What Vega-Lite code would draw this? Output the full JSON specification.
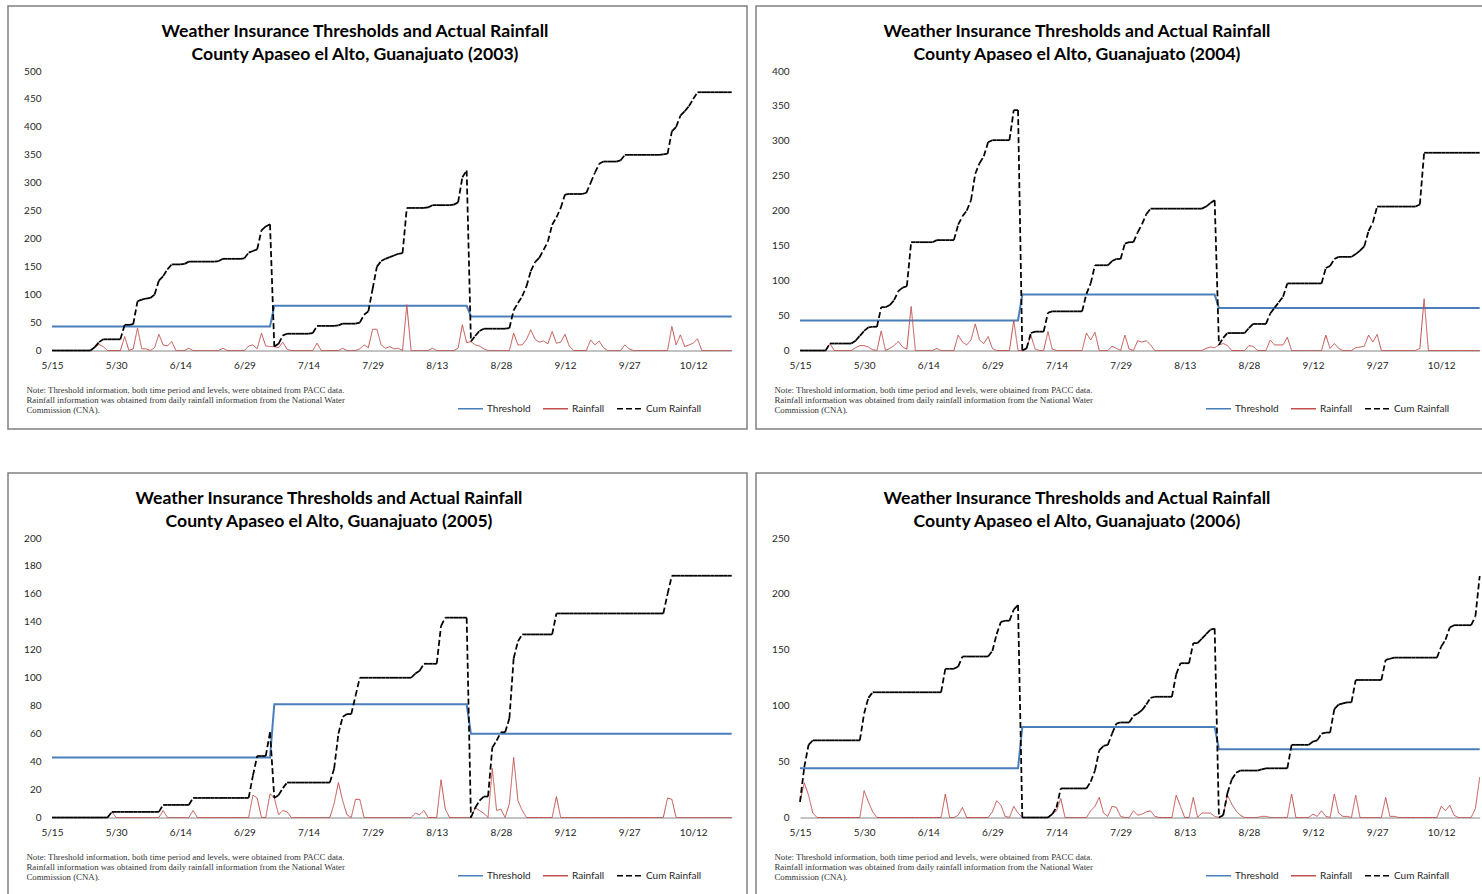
{
  "$schema": "https://vega.github.io/schema/vega-lite/v6.json",
  "padding": {"left": 7, "top": 5, "right": 5, "bottom": 5},
  "background": "white",
  "config": {
    "view": {"stroke": "#808080", "strokeWidth": 1.5},
    "font": "Lato",
    "axis": {"labelFont": "Lato", "labelFontSize": 10, "labelColor": "#262626", "grid": false, "ticks": false, "tickSize": 0, "labelFlush": false, "labelOverlap": false},
    "axisX": {"offset": -78.5, "labelPadding": 10, "domain": true, "domainColor": "#868686", "domainWidth": 1, "titleFont": "Liberation Serif", "titleFontSize": 8.8, "titleFontWeight": "normal", "titleColor": "#333333", "titleAnchor": "start", "titleAlign": "left", "titleBaseline": "top", "titleX": 18, "titleY": 35, "titleLineHeight": 9.8},
    "axisY": {"offset": -35, "labelPadding": 2, "domain": false, "title": null},
    "legend": {"orient": "none", "legendX": 449, "legendY": 389, "direction": "horizontal", "labelFont": "Lato", "labelFontSize": 10, "labelColor": "#262626", "symbolType": "stroke", "symbolSize": 625, "symbolStrokeWidth": 1.5, "columnPadding": 9, "labelOffset": 3},
    "title": {"font": "Lato", "fontSize": 17.6, "fontWeight": "bold", "color": "#000000", "anchor": "middle", "frame": "group", "offset": -58, "lineHeight": 23}
  },
  "columns": 2,
  "spacing": {"row": 44, "column": 9},
  "bounds": "flush",
  "resolve": {"scale": {"color": "independent", "strokeDash": "independent"}, "legend": {"color": "independent", "strokeDash": "independent"}},
  "concat": [
    {
      "width": 739, "height": 423,
      "title": {"text": ["Weather Insurance Thresholds and Actual Rainfall", "County Apaseo el Alto, Guanajuato (2003)"], "dx": -22.5},
      "data": {"format": {"parse": {"date": "date:'%Y-%m-%d'"}}, "values": [
        {"date":"2003-05-15","Rainfall":0,"Cum Rainfall":0},{"date":"2003-05-16","Rainfall":0,"Cum Rainfall":0},{"date":"2003-05-17","Rainfall":0,"Cum Rainfall":0},{"date":"2003-05-18","Rainfall":0,"Cum Rainfall":0},{"date":"2003-05-19","Rainfall":0,"Cum Rainfall":0},{"date":"2003-05-20","Rainfall":0,"Cum Rainfall":0},{"date":"2003-05-21","Rainfall":0,"Cum Rainfall":0},{"date":"2003-05-22","Rainfall":0,"Cum Rainfall":0},{"date":"2003-05-23","Rainfall":0,"Cum Rainfall":0},{"date":"2003-05-24","Rainfall":0,"Cum Rainfall":0},{"date":"2003-05-25","Rainfall":6,"Cum Rainfall":6},{"date":"2003-05-26","Rainfall":11,"Cum Rainfall":15},{"date":"2003-05-27","Rainfall":7,"Cum Rainfall":20},{"date":"2003-05-28","Rainfall":0,"Cum Rainfall":20},{"date":"2003-05-29","Rainfall":0,"Cum Rainfall":20},{"date":"2003-05-30","Rainfall":0,"Cum Rainfall":20},{"date":"2003-05-31","Rainfall":0,"Cum Rainfall":20},
        {"date":"2003-06-01","Rainfall":25,"Cum Rainfall":46},{"date":"2003-06-02","Rainfall":0,"Cum Rainfall":46},{"date":"2003-06-03","Rainfall":3,"Cum Rainfall":47},{"date":"2003-06-04","Rainfall":40,"Cum Rainfall":88},{"date":"2003-06-05","Rainfall":3,"Cum Rainfall":91},{"date":"2003-06-06","Rainfall":3,"Cum Rainfall":93},{"date":"2003-06-07","Rainfall":0,"Cum Rainfall":94},{"date":"2003-06-08","Rainfall":5,"Cum Rainfall":100},{"date":"2003-06-09","Rainfall":29,"Cum Rainfall":125},{"date":"2003-06-10","Rainfall":10,"Cum Rainfall":133},{"date":"2003-06-11","Rainfall":8,"Cum Rainfall":145},{"date":"2003-06-12","Rainfall":16,"Cum Rainfall":154},{"date":"2003-06-13","Rainfall":0,"Cum Rainfall":154},{"date":"2003-06-14","Rainfall":0,"Cum Rainfall":154},{"date":"2003-06-15","Rainfall":0,"Cum Rainfall":155},{"date":"2003-06-16","Rainfall":4,"Cum Rainfall":159},{"date":"2003-06-17","Rainfall":0,"Cum Rainfall":159},{"date":"2003-06-18","Rainfall":0,"Cum Rainfall":159},{"date":"2003-06-19","Rainfall":0,"Cum Rainfall":159},{"date":"2003-06-20","Rainfall":0,"Cum Rainfall":159},{"date":"2003-06-21","Rainfall":0,"Cum Rainfall":159},{"date":"2003-06-22","Rainfall":0,"Cum Rainfall":159},{"date":"2003-06-23","Rainfall":0,"Cum Rainfall":160},{"date":"2003-06-24","Rainfall":4,"Cum Rainfall":164},{"date":"2003-06-25","Rainfall":0,"Cum Rainfall":164},{"date":"2003-06-26","Rainfall":0,"Cum Rainfall":164},{"date":"2003-06-27","Rainfall":0,"Cum Rainfall":164},{"date":"2003-06-28","Rainfall":0,"Cum Rainfall":164},{"date":"2003-06-29","Rainfall":0,"Cum Rainfall":165},{"date":"2003-06-30","Rainfall":8,"Cum Rainfall":175},
        {"date":"2003-07-01","Rainfall":10,"Cum Rainfall":178},{"date":"2003-07-02","Rainfall":3,"Cum Rainfall":181},{"date":"2003-07-03","Rainfall":31,"Cum Rainfall":215},{"date":"2003-07-04","Rainfall":8,"Cum Rainfall":222},{"date":"2003-07-05","Rainfall":7,"Cum Rainfall":226},{"date":"2003-07-06","Rainfall":7,"Cum Rainfall":7},{"date":"2003-07-07","Rainfall":5,"Cum Rainfall":12},{"date":"2003-07-08","Rainfall":15,"Cum Rainfall":27},{"date":"2003-07-09","Rainfall":2,"Cum Rainfall":30},{"date":"2003-07-10","Rainfall":0,"Cum Rainfall":30},{"date":"2003-07-11","Rainfall":0,"Cum Rainfall":30},{"date":"2003-07-12","Rainfall":0,"Cum Rainfall":30},{"date":"2003-07-13","Rainfall":0,"Cum Rainfall":30},{"date":"2003-07-14","Rainfall":0,"Cum Rainfall":30},{"date":"2003-07-15","Rainfall":0,"Cum Rainfall":31},{"date":"2003-07-16","Rainfall":13,"Cum Rainfall":44},{"date":"2003-07-17","Rainfall":0,"Cum Rainfall":44},{"date":"2003-07-18","Rainfall":0,"Cum Rainfall":44},{"date":"2003-07-19","Rainfall":0,"Cum Rainfall":44},{"date":"2003-07-20","Rainfall":0,"Cum Rainfall":44},{"date":"2003-07-21","Rainfall":0,"Cum Rainfall":45},{"date":"2003-07-22","Rainfall":4,"Cum Rainfall":48},{"date":"2003-07-23","Rainfall":0,"Cum Rainfall":48},{"date":"2003-07-24","Rainfall":0,"Cum Rainfall":48},{"date":"2003-07-25","Rainfall":0,"Cum Rainfall":48},{"date":"2003-07-26","Rainfall":3,"Cum Rainfall":50},{"date":"2003-07-27","Rainfall":10,"Cum Rainfall":64},{"date":"2003-07-28","Rainfall":5,"Cum Rainfall":70},{"date":"2003-07-29","Rainfall":38,"Cum Rainfall":110},{"date":"2003-07-30","Rainfall":38,"Cum Rainfall":150},{"date":"2003-07-31","Rainfall":10,"Cum Rainfall":160},
        {"date":"2003-08-01","Rainfall":4,"Cum Rainfall":164},{"date":"2003-08-02","Rainfall":7,"Cum Rainfall":167},{"date":"2003-08-03","Rainfall":3,"Cum Rainfall":170},{"date":"2003-08-04","Rainfall":4,"Cum Rainfall":173},{"date":"2003-08-05","Rainfall":0,"Cum Rainfall":174},{"date":"2003-08-06","Rainfall":82,"Cum Rainfall":255},{"date":"2003-08-07","Rainfall":0,"Cum Rainfall":255},{"date":"2003-08-08","Rainfall":0,"Cum Rainfall":255},{"date":"2003-08-09","Rainfall":0,"Cum Rainfall":255},{"date":"2003-08-10","Rainfall":0,"Cum Rainfall":255},{"date":"2003-08-11","Rainfall":0,"Cum Rainfall":256},{"date":"2003-08-12","Rainfall":4,"Cum Rainfall":260},{"date":"2003-08-13","Rainfall":0,"Cum Rainfall":260},{"date":"2003-08-14","Rainfall":0,"Cum Rainfall":260},{"date":"2003-08-15","Rainfall":0,"Cum Rainfall":260},{"date":"2003-08-16","Rainfall":0,"Cum Rainfall":260},{"date":"2003-08-17","Rainfall":0,"Cum Rainfall":261},{"date":"2003-08-18","Rainfall":4,"Cum Rainfall":265},{"date":"2003-08-19","Rainfall":46,"Cum Rainfall":310},{"date":"2003-08-20","Rainfall":14,"Cum Rainfall":322},{"date":"2003-08-21","Rainfall":16,"Cum Rainfall":16},{"date":"2003-08-22","Rainfall":10,"Cum Rainfall":26},{"date":"2003-08-23","Rainfall":8,"Cum Rainfall":35},{"date":"2003-08-24","Rainfall":3,"Cum Rainfall":39},{"date":"2003-08-25","Rainfall":0,"Cum Rainfall":39},{"date":"2003-08-26","Rainfall":0,"Cum Rainfall":39},{"date":"2003-08-27","Rainfall":0,"Cum Rainfall":39},{"date":"2003-08-28","Rainfall":0,"Cum Rainfall":39},{"date":"2003-08-29","Rainfall":0,"Cum Rainfall":39},{"date":"2003-08-30","Rainfall":0,"Cum Rainfall":40},{"date":"2003-08-31","Rainfall":31,"Cum Rainfall":72},
        {"date":"2003-09-01","Rainfall":10,"Cum Rainfall":85},{"date":"2003-09-02","Rainfall":10,"Cum Rainfall":97},{"date":"2003-09-03","Rainfall":20,"Cum Rainfall":115},{"date":"2003-09-04","Rainfall":37,"Cum Rainfall":142},{"date":"2003-09-05","Rainfall":20,"Cum Rainfall":158},{"date":"2003-09-06","Rainfall":15,"Cum Rainfall":166},{"date":"2003-09-07","Rainfall":17,"Cum Rainfall":180},{"date":"2003-09-08","Rainfall":12,"Cum Rainfall":195},{"date":"2003-09-09","Rainfall":34,"Cum Rainfall":225},{"date":"2003-09-10","Rainfall":13,"Cum Rainfall":238},{"date":"2003-09-11","Rainfall":15,"Cum Rainfall":255},{"date":"2003-09-12","Rainfall":29,"Cum Rainfall":279},{"date":"2003-09-13","Rainfall":8,"Cum Rainfall":280},{"date":"2003-09-14","Rainfall":0,"Cum Rainfall":280},{"date":"2003-09-15","Rainfall":0,"Cum Rainfall":280},{"date":"2003-09-16","Rainfall":0,"Cum Rainfall":280},{"date":"2003-09-17","Rainfall":0,"Cum Rainfall":282},{"date":"2003-09-18","Rainfall":19,"Cum Rainfall":300},{"date":"2003-09-19","Rainfall":10,"Cum Rainfall":318},{"date":"2003-09-20","Rainfall":17,"Cum Rainfall":334},{"date":"2003-09-21","Rainfall":5,"Cum Rainfall":338},{"date":"2003-09-22","Rainfall":0,"Cum Rainfall":338},{"date":"2003-09-23","Rainfall":0,"Cum Rainfall":338},{"date":"2003-09-24","Rainfall":0,"Cum Rainfall":338},{"date":"2003-09-25","Rainfall":0,"Cum Rainfall":340},{"date":"2003-09-26","Rainfall":10,"Cum Rainfall":350},{"date":"2003-09-27","Rainfall":3,"Cum Rainfall":350},{"date":"2003-09-28","Rainfall":0,"Cum Rainfall":350},{"date":"2003-09-29","Rainfall":0,"Cum Rainfall":350},{"date":"2003-09-30","Rainfall":0,"Cum Rainfall":350},
        {"date":"2003-10-01","Rainfall":0,"Cum Rainfall":350},{"date":"2003-10-02","Rainfall":0,"Cum Rainfall":350},{"date":"2003-10-03","Rainfall":0,"Cum Rainfall":350},{"date":"2003-10-04","Rainfall":0,"Cum Rainfall":350},{"date":"2003-10-05","Rainfall":0,"Cum Rainfall":351},{"date":"2003-10-06","Rainfall":0,"Cum Rainfall":352},{"date":"2003-10-07","Rainfall":43,"Cum Rainfall":392},{"date":"2003-10-08","Rainfall":10,"Cum Rainfall":400},{"date":"2003-10-09","Rainfall":28,"Cum Rainfall":420},{"date":"2003-10-10","Rainfall":7,"Cum Rainfall":428},{"date":"2003-10-11","Rainfall":10,"Cum Rainfall":437},{"date":"2003-10-12","Rainfall":13,"Cum Rainfall":450},{"date":"2003-10-13","Rainfall":21,"Cum Rainfall":462},{"date":"2003-10-14","Rainfall":0,"Cum Rainfall":462},{"date":"2003-10-15","Rainfall":0,"Cum Rainfall":462},{"date":"2003-10-16","Rainfall":0,"Cum Rainfall":462},{"date":"2003-10-17","Rainfall":0,"Cum Rainfall":462},{"date":"2003-10-18","Rainfall":0,"Cum Rainfall":462},{"date":"2003-10-19","Rainfall":0,"Cum Rainfall":462},{"date":"2003-10-20","Rainfall":0,"Cum Rainfall":462},{"date":"2003-10-21","Rainfall":0,"Cum Rainfall":462}
      ]},
      "encoding": {
        "x": {"field": "date", "type": "temporal",
          "scale": {"domain": [{"year": 2003, "month": 5, "date": 15}, {"year": 2003, "month": 10, "date": 21}], "range": [44, 723.7]},
          "axis": {"format": "%-m/%-d", "values": [{"year": 2003, "month": 5, "date": 15}, {"year": 2003, "month": 5, "date": 30}, {"year": 2003, "month": 6, "date": 14}, {"year": 2003, "month": 6, "date": 29}, {"year": 2003, "month": 7, "date": 14}, {"year": 2003, "month": 7, "date": 29}, {"year": 2003, "month": 8, "date": 13}, {"year": 2003, "month": 8, "date": 28}, {"year": 2003, "month": 9, "date": 12}, {"year": 2003, "month": 9, "date": 27}, {"year": 2003, "month": 10, "date": 12}],
            "title": ["Note:  Threshold information, both time period and levels, were obtained from PACC data.", "Rainfall information was obtained from daily rainfall information from the National Water", "Commission (CNA)."]}},
        "y": {"field": "mm", "type": "quantitative", "scale": {"domain": [0, 500], "range": [344.5, 65], "nice": false}, "axis": {"values": [0, 50, 100, 150, 200, 250, 300, 350, 400, 450, 500]}},
        "color": {"field": "series", "type": "nominal", "scale": {"domain": ["Threshold", "Rainfall", "Cum Rainfall"], "range": ["#4a7ebb", "#c0504d", "#000000"]}, "legend": {"title": null}},
        "strokeDash": {"field": "series", "type": "nominal", "scale": {"domain": ["Threshold", "Rainfall", "Cum Rainfall"], "range": [[1, 0], [1, 0], [6, 3]]}, "legend": {"title": null}}
      },
      "layer": [
        {"data": {"format": {"parse": {"date": "date:'%Y-%m-%d'"}}, "values": [{"series":"Threshold","date":"2003-05-15","mm":43},{"series":"Threshold","date":"2003-07-05","mm":43},{"series":"Threshold","date":"2003-07-06","mm":80},{"series":"Threshold","date":"2003-08-20","mm":80},{"series":"Threshold","date":"2003-08-21","mm":61},{"series":"Threshold","date":"2003-10-21","mm":61}]},
         "mark": {"type": "line", "strokeWidth": 2}},
        {"transform": [{"fold": ["Rainfall"], "as": ["series", "mm"]}], "mark": {"type": "line", "strokeWidth": 1}},
        {"transform": [{"window": [{"op": "lead", "field": "date", "as": "next_date"}, {"op": "lead", "field": "Cum Rainfall", "as": "next_mm"}], "sort": [{"field": "date", "order": "ascending"}]}, {"filter": "datum.next_date != null"}, {"fold": ["Cum Rainfall"], "as": ["series", "mm"]}],
         "mark": {"type": "rule", "strokeWidth": 1.75, "strokeCap": "butt"},
         "encoding": {"x2": {"field": "next_date"}, "y2": {"field": "next_mm"}}}
      ]
    },
    {
      "width": 739, "height": 423,
      "title": {"text": ["Weather Insurance Thresholds and Actual Rainfall", "County Apaseo el Alto, Guanajuato (2004)"], "dx": -48.5},
      "data": {"format": {"parse": {"date": "date:'%Y-%m-%d'"}}, "values": [
        {"date":"2004-05-15","Rainfall":0,"Cum Rainfall":0},{"date":"2004-05-16","Rainfall":0,"Cum Rainfall":0},{"date":"2004-05-17","Rainfall":0,"Cum Rainfall":0},{"date":"2004-05-18","Rainfall":0,"Cum Rainfall":0},{"date":"2004-05-19","Rainfall":0,"Cum Rainfall":0},{"date":"2004-05-20","Rainfall":0,"Cum Rainfall":0},{"date":"2004-05-21","Rainfall":0,"Cum Rainfall":0},{"date":"2004-05-22","Rainfall":10,"Cum Rainfall":10},{"date":"2004-05-23","Rainfall":0,"Cum Rainfall":10},{"date":"2004-05-24","Rainfall":0,"Cum Rainfall":10},{"date":"2004-05-25","Rainfall":0,"Cum Rainfall":10},{"date":"2004-05-26","Rainfall":0,"Cum Rainfall":10},{"date":"2004-05-27","Rainfall":0,"Cum Rainfall":10},{"date":"2004-05-28","Rainfall":4,"Cum Rainfall":14},{"date":"2004-05-29","Rainfall":7,"Cum Rainfall":21},{"date":"2004-05-30","Rainfall":7,"Cum Rainfall":28},{"date":"2004-05-31","Rainfall":5,"Cum Rainfall":33},
        {"date":"2004-06-01","Rainfall":1,"Cum Rainfall":34},{"date":"2004-06-02","Rainfall":0,"Cum Rainfall":34},{"date":"2004-06-03","Rainfall":28,"Cum Rainfall":62},{"date":"2004-06-04","Rainfall":0,"Cum Rainfall":62},{"date":"2004-06-05","Rainfall":3,"Cum Rainfall":65},{"date":"2004-06-06","Rainfall":7,"Cum Rainfall":72},{"date":"2004-06-07","Rainfall":13,"Cum Rainfall":85},{"date":"2004-06-08","Rainfall":5,"Cum Rainfall":90},{"date":"2004-06-09","Rainfall":2,"Cum Rainfall":92},{"date":"2004-06-10","Rainfall":63,"Cum Rainfall":155},{"date":"2004-06-11","Rainfall":0,"Cum Rainfall":155},{"date":"2004-06-12","Rainfall":0,"Cum Rainfall":155},{"date":"2004-06-13","Rainfall":0,"Cum Rainfall":155},{"date":"2004-06-14","Rainfall":0,"Cum Rainfall":155},{"date":"2004-06-15","Rainfall":0,"Cum Rainfall":155},{"date":"2004-06-16","Rainfall":3,"Cum Rainfall":158},{"date":"2004-06-17","Rainfall":0,"Cum Rainfall":158},{"date":"2004-06-18","Rainfall":0,"Cum Rainfall":158},{"date":"2004-06-19","Rainfall":0,"Cum Rainfall":158},{"date":"2004-06-20","Rainfall":0,"Cum Rainfall":158},{"date":"2004-06-21","Rainfall":22,"Cum Rainfall":180},{"date":"2004-06-22","Rainfall":12,"Cum Rainfall":192},{"date":"2004-06-23","Rainfall":8,"Cum Rainfall":200},{"date":"2004-06-24","Rainfall":15,"Cum Rainfall":215},{"date":"2004-06-25","Rainfall":38,"Cum Rainfall":253},{"date":"2004-06-26","Rainfall":15,"Cum Rainfall":268},{"date":"2004-06-27","Rainfall":10,"Cum Rainfall":278},{"date":"2004-06-28","Rainfall":20,"Cum Rainfall":298},{"date":"2004-06-29","Rainfall":3,"Cum Rainfall":301},{"date":"2004-06-30","Rainfall":0,"Cum Rainfall":301},
        {"date":"2004-07-01","Rainfall":0,"Cum Rainfall":301},{"date":"2004-07-02","Rainfall":0,"Cum Rainfall":301},{"date":"2004-07-03","Rainfall":0,"Cum Rainfall":301},{"date":"2004-07-04","Rainfall":43,"Cum Rainfall":344},{"date":"2004-07-05","Rainfall":0,"Cum Rainfall":344},{"date":"2004-07-06","Rainfall":0,"Cum Rainfall":0},{"date":"2004-07-07","Rainfall":3,"Cum Rainfall":3},{"date":"2004-07-08","Rainfall":22,"Cum Rainfall":25},{"date":"2004-07-09","Rainfall":2,"Cum Rainfall":27},{"date":"2004-07-10","Rainfall":0,"Cum Rainfall":27},{"date":"2004-07-11","Rainfall":0,"Cum Rainfall":27},{"date":"2004-07-12","Rainfall":27,"Cum Rainfall":54},{"date":"2004-07-13","Rainfall":2,"Cum Rainfall":56},{"date":"2004-07-14","Rainfall":0,"Cum Rainfall":56},{"date":"2004-07-15","Rainfall":0,"Cum Rainfall":56},{"date":"2004-07-16","Rainfall":0,"Cum Rainfall":56},{"date":"2004-07-17","Rainfall":0,"Cum Rainfall":56},{"date":"2004-07-18","Rainfall":0,"Cum Rainfall":56},{"date":"2004-07-19","Rainfall":0,"Cum Rainfall":56},{"date":"2004-07-20","Rainfall":0,"Cum Rainfall":56},{"date":"2004-07-21","Rainfall":25,"Cum Rainfall":81},{"date":"2004-07-22","Rainfall":15,"Cum Rainfall":96},{"date":"2004-07-23","Rainfall":26,"Cum Rainfall":122},{"date":"2004-07-24","Rainfall":0,"Cum Rainfall":122},{"date":"2004-07-25","Rainfall":0,"Cum Rainfall":122},{"date":"2004-07-26","Rainfall":0,"Cum Rainfall":122},{"date":"2004-07-27","Rainfall":6,"Cum Rainfall":128},{"date":"2004-07-28","Rainfall":3,"Cum Rainfall":131},{"date":"2004-07-29","Rainfall":0,"Cum Rainfall":131},{"date":"2004-07-30","Rainfall":22,"Cum Rainfall":153},{"date":"2004-07-31","Rainfall":2,"Cum Rainfall":155},
        {"date":"2004-08-01","Rainfall":0,"Cum Rainfall":155},{"date":"2004-08-02","Rainfall":14,"Cum Rainfall":169},{"date":"2004-08-03","Rainfall":12,"Cum Rainfall":181},{"date":"2004-08-04","Rainfall":14,"Cum Rainfall":195},{"date":"2004-08-05","Rainfall":8,"Cum Rainfall":203},{"date":"2004-08-06","Rainfall":0,"Cum Rainfall":203},{"date":"2004-08-07","Rainfall":0,"Cum Rainfall":203},{"date":"2004-08-08","Rainfall":0,"Cum Rainfall":203},{"date":"2004-08-09","Rainfall":0,"Cum Rainfall":203},{"date":"2004-08-10","Rainfall":0,"Cum Rainfall":203},{"date":"2004-08-11","Rainfall":0,"Cum Rainfall":203},{"date":"2004-08-12","Rainfall":0,"Cum Rainfall":203},{"date":"2004-08-13","Rainfall":0,"Cum Rainfall":203},{"date":"2004-08-14","Rainfall":0,"Cum Rainfall":203},{"date":"2004-08-15","Rainfall":0,"Cum Rainfall":203},{"date":"2004-08-16","Rainfall":0,"Cum Rainfall":203},{"date":"2004-08-17","Rainfall":0,"Cum Rainfall":203},{"date":"2004-08-18","Rainfall":3,"Cum Rainfall":206},{"date":"2004-08-19","Rainfall":5,"Cum Rainfall":211},{"date":"2004-08-20","Rainfall":4,"Cum Rainfall":215},{"date":"2004-08-21","Rainfall":8,"Cum Rainfall":8},{"date":"2004-08-22","Rainfall":10,"Cum Rainfall":18},{"date":"2004-08-23","Rainfall":7,"Cum Rainfall":25},{"date":"2004-08-24","Rainfall":0,"Cum Rainfall":25},{"date":"2004-08-25","Rainfall":0,"Cum Rainfall":25},{"date":"2004-08-26","Rainfall":0,"Cum Rainfall":25},{"date":"2004-08-27","Rainfall":0,"Cum Rainfall":25},{"date":"2004-08-28","Rainfall":7,"Cum Rainfall":32},{"date":"2004-08-29","Rainfall":6,"Cum Rainfall":38},{"date":"2004-08-30","Rainfall":0,"Cum Rainfall":38},{"date":"2004-08-31","Rainfall":0,"Cum Rainfall":38},
        {"date":"2004-09-01","Rainfall":0,"Cum Rainfall":38},{"date":"2004-09-02","Rainfall":15,"Cum Rainfall":53},{"date":"2004-09-03","Rainfall":8,"Cum Rainfall":61},{"date":"2004-09-04","Rainfall":8,"Cum Rainfall":69},{"date":"2004-09-05","Rainfall":8,"Cum Rainfall":77},{"date":"2004-09-06","Rainfall":19,"Cum Rainfall":96},{"date":"2004-09-07","Rainfall":0,"Cum Rainfall":96},{"date":"2004-09-08","Rainfall":0,"Cum Rainfall":96},{"date":"2004-09-09","Rainfall":0,"Cum Rainfall":96},{"date":"2004-09-10","Rainfall":0,"Cum Rainfall":96},{"date":"2004-09-11","Rainfall":0,"Cum Rainfall":96},{"date":"2004-09-12","Rainfall":0,"Cum Rainfall":96},{"date":"2004-09-13","Rainfall":0,"Cum Rainfall":96},{"date":"2004-09-14","Rainfall":0,"Cum Rainfall":96},{"date":"2004-09-15","Rainfall":22,"Cum Rainfall":118},{"date":"2004-09-16","Rainfall":3,"Cum Rainfall":121},{"date":"2004-09-17","Rainfall":10,"Cum Rainfall":131},{"date":"2004-09-18","Rainfall":3,"Cum Rainfall":134},{"date":"2004-09-19","Rainfall":0,"Cum Rainfall":134},{"date":"2004-09-20","Rainfall":0,"Cum Rainfall":134},{"date":"2004-09-21","Rainfall":0,"Cum Rainfall":134},{"date":"2004-09-22","Rainfall":4,"Cum Rainfall":138},{"date":"2004-09-23","Rainfall":5,"Cum Rainfall":143},{"date":"2004-09-24","Rainfall":6,"Cum Rainfall":149},{"date":"2004-09-25","Rainfall":22,"Cum Rainfall":171},{"date":"2004-09-26","Rainfall":12,"Cum Rainfall":183},{"date":"2004-09-27","Rainfall":23,"Cum Rainfall":206},{"date":"2004-09-28","Rainfall":0,"Cum Rainfall":206},{"date":"2004-09-29","Rainfall":0,"Cum Rainfall":206},{"date":"2004-09-30","Rainfall":0,"Cum Rainfall":206},
        {"date":"2004-10-01","Rainfall":0,"Cum Rainfall":206},{"date":"2004-10-02","Rainfall":0,"Cum Rainfall":206},{"date":"2004-10-03","Rainfall":0,"Cum Rainfall":206},{"date":"2004-10-04","Rainfall":0,"Cum Rainfall":206},{"date":"2004-10-05","Rainfall":0,"Cum Rainfall":206},{"date":"2004-10-06","Rainfall":0,"Cum Rainfall":206},{"date":"2004-10-07","Rainfall":3,"Cum Rainfall":209},{"date":"2004-10-08","Rainfall":74,"Cum Rainfall":283},{"date":"2004-10-09","Rainfall":0,"Cum Rainfall":283},{"date":"2004-10-10","Rainfall":0,"Cum Rainfall":283},{"date":"2004-10-11","Rainfall":0,"Cum Rainfall":283},{"date":"2004-10-12","Rainfall":0,"Cum Rainfall":283},{"date":"2004-10-13","Rainfall":0,"Cum Rainfall":283},{"date":"2004-10-14","Rainfall":0,"Cum Rainfall":283},{"date":"2004-10-15","Rainfall":0,"Cum Rainfall":283},{"date":"2004-10-16","Rainfall":0,"Cum Rainfall":283},{"date":"2004-10-17","Rainfall":0,"Cum Rainfall":283},{"date":"2004-10-18","Rainfall":0,"Cum Rainfall":283},{"date":"2004-10-19","Rainfall":0,"Cum Rainfall":283},{"date":"2004-10-20","Rainfall":0,"Cum Rainfall":283},{"date":"2004-10-21","Rainfall":0,"Cum Rainfall":283}
      ]},
      "encoding": {
        "x": {"field": "date", "type": "temporal",
          "scale": {"domain": [{"year": 2004, "month": 5, "date": 15}, {"year": 2004, "month": 10, "date": 21}], "range": [44, 723.7]},
          "axis": {"format": "%-m/%-d", "values": [{"year": 2004, "month": 5, "date": 15}, {"year": 2004, "month": 5, "date": 30}, {"year": 2004, "month": 6, "date": 14}, {"year": 2004, "month": 6, "date": 29}, {"year": 2004, "month": 7, "date": 14}, {"year": 2004, "month": 7, "date": 29}, {"year": 2004, "month": 8, "date": 13}, {"year": 2004, "month": 8, "date": 28}, {"year": 2004, "month": 9, "date": 12}, {"year": 2004, "month": 9, "date": 27}, {"year": 2004, "month": 10, "date": 12}],
            "title": ["Note:  Threshold information, both time period and levels, were obtained from PACC data.", "Rainfall information was obtained from daily rainfall information from the National Water", "Commission (CNA)."]}},
        "y": {"field": "mm", "type": "quantitative", "scale": {"domain": [0, 400], "range": [344.5, 65], "nice": false}, "axis": {"values": [0, 50, 100, 150, 200, 250, 300, 350, 400]}},
        "color": {"field": "series", "type": "nominal", "scale": {"domain": ["Threshold", "Rainfall", "Cum Rainfall"], "range": ["#4a7ebb", "#c0504d", "#000000"]}, "legend": {"title": null}},
        "strokeDash": {"field": "series", "type": "nominal", "scale": {"domain": ["Threshold", "Rainfall", "Cum Rainfall"], "range": [[1, 0], [1, 0], [6, 3]]}, "legend": {"title": null}}
      },
      "layer": [
        {"data": {"format": {"parse": {"date": "date:'%Y-%m-%d'"}}, "values": [{"series":"Threshold","date":"2004-05-15","mm":43},{"series":"Threshold","date":"2004-07-05","mm":43},{"series":"Threshold","date":"2004-07-06","mm":80},{"series":"Threshold","date":"2004-08-20","mm":80},{"series":"Threshold","date":"2004-08-21","mm":61},{"series":"Threshold","date":"2004-10-21","mm":61}]},
         "mark": {"type": "line", "strokeWidth": 2}},
        {"transform": [{"fold": ["Rainfall"], "as": ["series", "mm"]}], "mark": {"type": "line", "strokeWidth": 1}},
        {"transform": [{"window": [{"op": "lead", "field": "date", "as": "next_date"}, {"op": "lead", "field": "Cum Rainfall", "as": "next_mm"}], "sort": [{"field": "date", "order": "ascending"}]}, {"filter": "datum.next_date != null"}, {"fold": ["Cum Rainfall"], "as": ["series", "mm"]}],
         "mark": {"type": "rule", "strokeWidth": 1.75, "strokeCap": "butt"},
         "encoding": {"x2": {"field": "next_date"}, "y2": {"field": "next_mm"}}}
      ]
    },
    {
      "width": 739, "height": 423,
      "title": {"text": ["Weather Insurance Thresholds and Actual Rainfall", "County Apaseo el Alto, Guanajuato (2005)"], "dx": -48.5},
      "data": {"format": {"parse": {"date": "date:'%Y-%m-%d'"}}, "values": [
        {"date":"2005-05-15","Rainfall":0,"Cum Rainfall":0},{"date":"2005-05-16","Rainfall":0,"Cum Rainfall":0},{"date":"2005-05-17","Rainfall":0,"Cum Rainfall":0},{"date":"2005-05-18","Rainfall":0,"Cum Rainfall":0},{"date":"2005-05-19","Rainfall":0,"Cum Rainfall":0},{"date":"2005-05-20","Rainfall":0,"Cum Rainfall":0},{"date":"2005-05-21","Rainfall":0,"Cum Rainfall":0},{"date":"2005-05-22","Rainfall":0,"Cum Rainfall":0},{"date":"2005-05-23","Rainfall":0,"Cum Rainfall":0},{"date":"2005-05-24","Rainfall":0,"Cum Rainfall":0},{"date":"2005-05-25","Rainfall":0,"Cum Rainfall":0},{"date":"2005-05-26","Rainfall":0,"Cum Rainfall":0},{"date":"2005-05-27","Rainfall":0,"Cum Rainfall":0},{"date":"2005-05-28","Rainfall":0,"Cum Rainfall":0},{"date":"2005-05-29","Rainfall":4,"Cum Rainfall":4},{"date":"2005-05-30","Rainfall":0,"Cum Rainfall":4},{"date":"2005-05-31","Rainfall":0,"Cum Rainfall":4},
        {"date":"2005-06-01","Rainfall":0,"Cum Rainfall":4},{"date":"2005-06-02","Rainfall":0,"Cum Rainfall":4},{"date":"2005-06-03","Rainfall":0,"Cum Rainfall":4},{"date":"2005-06-04","Rainfall":0,"Cum Rainfall":4},{"date":"2005-06-05","Rainfall":0,"Cum Rainfall":4},{"date":"2005-06-06","Rainfall":0,"Cum Rainfall":4},{"date":"2005-06-07","Rainfall":0,"Cum Rainfall":4},{"date":"2005-06-08","Rainfall":0,"Cum Rainfall":4},{"date":"2005-06-09","Rainfall":0,"Cum Rainfall":4},{"date":"2005-06-10","Rainfall":5,"Cum Rainfall":9},{"date":"2005-06-11","Rainfall":0,"Cum Rainfall":9},{"date":"2005-06-12","Rainfall":0,"Cum Rainfall":9},{"date":"2005-06-13","Rainfall":0,"Cum Rainfall":9},{"date":"2005-06-14","Rainfall":0,"Cum Rainfall":9},{"date":"2005-06-15","Rainfall":0,"Cum Rainfall":9},{"date":"2005-06-16","Rainfall":0,"Cum Rainfall":9},{"date":"2005-06-17","Rainfall":5,"Cum Rainfall":14},{"date":"2005-06-18","Rainfall":0,"Cum Rainfall":14},{"date":"2005-06-19","Rainfall":0,"Cum Rainfall":14},{"date":"2005-06-20","Rainfall":0,"Cum Rainfall":14},{"date":"2005-06-21","Rainfall":0,"Cum Rainfall":14},{"date":"2005-06-22","Rainfall":0,"Cum Rainfall":14},{"date":"2005-06-23","Rainfall":0,"Cum Rainfall":14},{"date":"2005-06-24","Rainfall":0,"Cum Rainfall":14},{"date":"2005-06-25","Rainfall":0,"Cum Rainfall":14},{"date":"2005-06-26","Rainfall":0,"Cum Rainfall":14},{"date":"2005-06-27","Rainfall":0,"Cum Rainfall":14},{"date":"2005-06-28","Rainfall":0,"Cum Rainfall":14},{"date":"2005-06-29","Rainfall":0,"Cum Rainfall":14},{"date":"2005-06-30","Rainfall":0,"Cum Rainfall":14},
        {"date":"2005-07-01","Rainfall":16,"Cum Rainfall":30},{"date":"2005-07-02","Rainfall":14,"Cum Rainfall":44},{"date":"2005-07-03","Rainfall":0,"Cum Rainfall":44},{"date":"2005-07-04","Rainfall":0,"Cum Rainfall":44},{"date":"2005-07-05","Rainfall":17,"Cum Rainfall":61},{"date":"2005-07-06","Rainfall":14,"Cum Rainfall":14},{"date":"2005-07-07","Rainfall":2,"Cum Rainfall":16},{"date":"2005-07-08","Rainfall":5,"Cum Rainfall":21},{"date":"2005-07-09","Rainfall":4,"Cum Rainfall":25},{"date":"2005-07-10","Rainfall":0,"Cum Rainfall":25},{"date":"2005-07-11","Rainfall":0,"Cum Rainfall":25},{"date":"2005-07-12","Rainfall":0,"Cum Rainfall":25},{"date":"2005-07-13","Rainfall":0,"Cum Rainfall":25},{"date":"2005-07-14","Rainfall":0,"Cum Rainfall":25},{"date":"2005-07-15","Rainfall":0,"Cum Rainfall":25},{"date":"2005-07-16","Rainfall":0,"Cum Rainfall":25},{"date":"2005-07-17","Rainfall":0,"Cum Rainfall":25},{"date":"2005-07-18","Rainfall":0,"Cum Rainfall":25},{"date":"2005-07-19","Rainfall":0,"Cum Rainfall":25},{"date":"2005-07-20","Rainfall":10,"Cum Rainfall":35},{"date":"2005-07-21","Rainfall":25,"Cum Rainfall":60},{"date":"2005-07-22","Rainfall":12,"Cum Rainfall":72},{"date":"2005-07-23","Rainfall":2,"Cum Rainfall":74},{"date":"2005-07-24","Rainfall":0,"Cum Rainfall":74},{"date":"2005-07-25","Rainfall":13,"Cum Rainfall":87},{"date":"2005-07-26","Rainfall":13,"Cum Rainfall":100},{"date":"2005-07-27","Rainfall":0,"Cum Rainfall":100},{"date":"2005-07-28","Rainfall":0,"Cum Rainfall":100},{"date":"2005-07-29","Rainfall":0,"Cum Rainfall":100},{"date":"2005-07-30","Rainfall":0,"Cum Rainfall":100},{"date":"2005-07-31","Rainfall":0,"Cum Rainfall":100},
        {"date":"2005-08-01","Rainfall":0,"Cum Rainfall":100},{"date":"2005-08-02","Rainfall":0,"Cum Rainfall":100},{"date":"2005-08-03","Rainfall":0,"Cum Rainfall":100},{"date":"2005-08-04","Rainfall":0,"Cum Rainfall":100},{"date":"2005-08-05","Rainfall":0,"Cum Rainfall":100},{"date":"2005-08-06","Rainfall":0,"Cum Rainfall":100},{"date":"2005-08-07","Rainfall":0,"Cum Rainfall":100},{"date":"2005-08-08","Rainfall":3,"Cum Rainfall":103},{"date":"2005-08-09","Rainfall":2,"Cum Rainfall":105},{"date":"2005-08-10","Rainfall":5,"Cum Rainfall":110},{"date":"2005-08-11","Rainfall":0,"Cum Rainfall":110},{"date":"2005-08-12","Rainfall":0,"Cum Rainfall":110},{"date":"2005-08-13","Rainfall":0,"Cum Rainfall":110},{"date":"2005-08-14","Rainfall":27,"Cum Rainfall":137},{"date":"2005-08-15","Rainfall":6,"Cum Rainfall":143},{"date":"2005-08-16","Rainfall":0,"Cum Rainfall":143},{"date":"2005-08-17","Rainfall":0,"Cum Rainfall":143},{"date":"2005-08-18","Rainfall":0,"Cum Rainfall":143},{"date":"2005-08-19","Rainfall":0,"Cum Rainfall":143},{"date":"2005-08-20","Rainfall":0,"Cum Rainfall":143},{"date":"2005-08-21","Rainfall":0,"Cum Rainfall":0},{"date":"2005-08-22","Rainfall":7,"Cum Rainfall":7},{"date":"2005-08-23","Rainfall":5,"Cum Rainfall":12},{"date":"2005-08-24","Rainfall":3,"Cum Rainfall":15},{"date":"2005-08-25","Rainfall":0,"Cum Rainfall":15},{"date":"2005-08-26","Rainfall":35,"Cum Rainfall":50},{"date":"2005-08-27","Rainfall":5,"Cum Rainfall":55},{"date":"2005-08-28","Rainfall":6,"Cum Rainfall":61},{"date":"2005-08-29","Rainfall":0,"Cum Rainfall":61},{"date":"2005-08-30","Rainfall":10,"Cum Rainfall":71},{"date":"2005-08-31","Rainfall":43,"Cum Rainfall":114},
        {"date":"2005-09-01","Rainfall":12,"Cum Rainfall":126},{"date":"2005-09-02","Rainfall":5,"Cum Rainfall":131},{"date":"2005-09-03","Rainfall":0,"Cum Rainfall":131},{"date":"2005-09-04","Rainfall":0,"Cum Rainfall":131},{"date":"2005-09-05","Rainfall":0,"Cum Rainfall":131},{"date":"2005-09-06","Rainfall":0,"Cum Rainfall":131},{"date":"2005-09-07","Rainfall":0,"Cum Rainfall":131},{"date":"2005-09-08","Rainfall":0,"Cum Rainfall":131},{"date":"2005-09-09","Rainfall":0,"Cum Rainfall":131},{"date":"2005-09-10","Rainfall":15,"Cum Rainfall":146},{"date":"2005-09-11","Rainfall":0,"Cum Rainfall":146},{"date":"2005-09-12","Rainfall":0,"Cum Rainfall":146},{"date":"2005-09-13","Rainfall":0,"Cum Rainfall":146},{"date":"2005-09-14","Rainfall":0,"Cum Rainfall":146},{"date":"2005-09-15","Rainfall":0,"Cum Rainfall":146},{"date":"2005-09-16","Rainfall":0,"Cum Rainfall":146},{"date":"2005-09-17","Rainfall":0,"Cum Rainfall":146},{"date":"2005-09-18","Rainfall":0,"Cum Rainfall":146},{"date":"2005-09-19","Rainfall":0,"Cum Rainfall":146},{"date":"2005-09-20","Rainfall":0,"Cum Rainfall":146},{"date":"2005-09-21","Rainfall":0,"Cum Rainfall":146},{"date":"2005-09-22","Rainfall":0,"Cum Rainfall":146},{"date":"2005-09-23","Rainfall":0,"Cum Rainfall":146},{"date":"2005-09-24","Rainfall":0,"Cum Rainfall":146},{"date":"2005-09-25","Rainfall":0,"Cum Rainfall":146},{"date":"2005-09-26","Rainfall":0,"Cum Rainfall":146},{"date":"2005-09-27","Rainfall":0,"Cum Rainfall":146},{"date":"2005-09-28","Rainfall":0,"Cum Rainfall":146},{"date":"2005-09-29","Rainfall":0,"Cum Rainfall":146},{"date":"2005-09-30","Rainfall":0,"Cum Rainfall":146},
        {"date":"2005-10-01","Rainfall":0,"Cum Rainfall":146},{"date":"2005-10-02","Rainfall":0,"Cum Rainfall":146},{"date":"2005-10-03","Rainfall":0,"Cum Rainfall":146},{"date":"2005-10-04","Rainfall":0,"Cum Rainfall":146},{"date":"2005-10-05","Rainfall":0,"Cum Rainfall":146},{"date":"2005-10-06","Rainfall":14,"Cum Rainfall":160},{"date":"2005-10-07","Rainfall":13,"Cum Rainfall":173},{"date":"2005-10-08","Rainfall":0,"Cum Rainfall":173},{"date":"2005-10-09","Rainfall":0,"Cum Rainfall":173},{"date":"2005-10-10","Rainfall":0,"Cum Rainfall":173},{"date":"2005-10-11","Rainfall":0,"Cum Rainfall":173},{"date":"2005-10-12","Rainfall":0,"Cum Rainfall":173},{"date":"2005-10-13","Rainfall":0,"Cum Rainfall":173},{"date":"2005-10-14","Rainfall":0,"Cum Rainfall":173},{"date":"2005-10-15","Rainfall":0,"Cum Rainfall":173},{"date":"2005-10-16","Rainfall":0,"Cum Rainfall":173},{"date":"2005-10-17","Rainfall":0,"Cum Rainfall":173},{"date":"2005-10-18","Rainfall":0,"Cum Rainfall":173},{"date":"2005-10-19","Rainfall":0,"Cum Rainfall":173},{"date":"2005-10-20","Rainfall":0,"Cum Rainfall":173},{"date":"2005-10-21","Rainfall":0,"Cum Rainfall":173}
      ]},
      "encoding": {
        "x": {"field": "date", "type": "temporal",
          "scale": {"domain": [{"year": 2005, "month": 5, "date": 15}, {"year": 2005, "month": 10, "date": 21}], "range": [44, 723.7]},
          "axis": {"format": "%-m/%-d", "values": [{"year": 2005, "month": 5, "date": 15}, {"year": 2005, "month": 5, "date": 30}, {"year": 2005, "month": 6, "date": 14}, {"year": 2005, "month": 6, "date": 29}, {"year": 2005, "month": 7, "date": 14}, {"year": 2005, "month": 7, "date": 29}, {"year": 2005, "month": 8, "date": 13}, {"year": 2005, "month": 8, "date": 28}, {"year": 2005, "month": 9, "date": 12}, {"year": 2005, "month": 9, "date": 27}, {"year": 2005, "month": 10, "date": 12}],
            "title": ["Note:  Threshold information, both time period and levels, were obtained from PACC data.", "Rainfall information was obtained from daily rainfall information from the National Water", "Commission (CNA)."]}},
        "y": {"field": "mm", "type": "quantitative", "scale": {"domain": [0, 200], "range": [344.5, 65], "nice": false}, "axis": {"values": [0, 20, 40, 60, 80, 100, 120, 140, 160, 180, 200]}},
        "color": {"field": "series", "type": "nominal", "scale": {"domain": ["Threshold", "Rainfall", "Cum Rainfall"], "range": ["#4a7ebb", "#c0504d", "#000000"]}, "legend": {"title": null}},
        "strokeDash": {"field": "series", "type": "nominal", "scale": {"domain": ["Threshold", "Rainfall", "Cum Rainfall"], "range": [[1, 0], [1, 0], [6, 3]]}, "legend": {"title": null}}
      },
      "layer": [
        {"data": {"format": {"parse": {"date": "date:'%Y-%m-%d'"}}, "values": [{"series":"Threshold","date":"2005-05-15","mm":43},{"series":"Threshold","date":"2005-07-05","mm":43},{"series":"Threshold","date":"2005-07-06","mm":81},{"series":"Threshold","date":"2005-08-20","mm":81},{"series":"Threshold","date":"2005-08-21","mm":60},{"series":"Threshold","date":"2005-10-21","mm":60}]},
         "mark": {"type": "line", "strokeWidth": 2}},
        {"transform": [{"fold": ["Rainfall"], "as": ["series", "mm"]}], "mark": {"type": "line", "strokeWidth": 1}},
        {"transform": [{"window": [{"op": "lead", "field": "date", "as": "next_date"}, {"op": "lead", "field": "Cum Rainfall", "as": "next_mm"}], "sort": [{"field": "date", "order": "ascending"}]}, {"filter": "datum.next_date != null"}, {"fold": ["Cum Rainfall"], "as": ["series", "mm"]}],
         "mark": {"type": "rule", "strokeWidth": 1.75, "strokeCap": "butt"},
         "encoding": {"x2": {"field": "next_date"}, "y2": {"field": "next_mm"}}}
      ]
    },
    {
      "width": 739, "height": 423,
      "title": {"text": ["Weather Insurance Thresholds and Actual Rainfall", "County Apaseo el Alto, Guanajuato (2006)"], "dx": -48.5},
      "data": {"format": {"parse": {"date": "date:'%Y-%m-%d'"}}, "values": [
        {"date":"2006-05-15","Rainfall":14,"Cum Rainfall":14},{"date":"2006-05-16","Rainfall":31,"Cum Rainfall":45},{"date":"2006-05-17","Rainfall":20,"Cum Rainfall":65},{"date":"2006-05-18","Rainfall":4,"Cum Rainfall":69},{"date":"2006-05-19","Rainfall":0,"Cum Rainfall":69},{"date":"2006-05-20","Rainfall":0,"Cum Rainfall":69},{"date":"2006-05-21","Rainfall":0,"Cum Rainfall":69},{"date":"2006-05-22","Rainfall":0,"Cum Rainfall":69},{"date":"2006-05-23","Rainfall":0,"Cum Rainfall":69},{"date":"2006-05-24","Rainfall":0,"Cum Rainfall":69},{"date":"2006-05-25","Rainfall":0,"Cum Rainfall":69},{"date":"2006-05-26","Rainfall":0,"Cum Rainfall":69},{"date":"2006-05-27","Rainfall":0,"Cum Rainfall":69},{"date":"2006-05-28","Rainfall":0,"Cum Rainfall":69},{"date":"2006-05-29","Rainfall":0,"Cum Rainfall":69},{"date":"2006-05-30","Rainfall":24,"Cum Rainfall":93},{"date":"2006-05-31","Rainfall":14,"Cum Rainfall":107},
        {"date":"2006-06-01","Rainfall":5,"Cum Rainfall":112},{"date":"2006-06-02","Rainfall":0,"Cum Rainfall":112},{"date":"2006-06-03","Rainfall":0,"Cum Rainfall":112},{"date":"2006-06-04","Rainfall":0,"Cum Rainfall":112},{"date":"2006-06-05","Rainfall":0,"Cum Rainfall":112},{"date":"2006-06-06","Rainfall":0,"Cum Rainfall":112},{"date":"2006-06-07","Rainfall":0,"Cum Rainfall":112},{"date":"2006-06-08","Rainfall":0,"Cum Rainfall":112},{"date":"2006-06-09","Rainfall":0,"Cum Rainfall":112},{"date":"2006-06-10","Rainfall":0,"Cum Rainfall":112},{"date":"2006-06-11","Rainfall":0,"Cum Rainfall":112},{"date":"2006-06-12","Rainfall":0,"Cum Rainfall":112},{"date":"2006-06-13","Rainfall":0,"Cum Rainfall":112},{"date":"2006-06-14","Rainfall":0,"Cum Rainfall":112},{"date":"2006-06-15","Rainfall":0,"Cum Rainfall":112},{"date":"2006-06-16","Rainfall":0,"Cum Rainfall":112},{"date":"2006-06-17","Rainfall":0,"Cum Rainfall":112},{"date":"2006-06-18","Rainfall":21,"Cum Rainfall":133},{"date":"2006-06-19","Rainfall":0,"Cum Rainfall":133},{"date":"2006-06-20","Rainfall":0,"Cum Rainfall":133},{"date":"2006-06-21","Rainfall":2,"Cum Rainfall":135},{"date":"2006-06-22","Rainfall":9,"Cum Rainfall":144},{"date":"2006-06-23","Rainfall":0,"Cum Rainfall":144},{"date":"2006-06-24","Rainfall":0,"Cum Rainfall":144},{"date":"2006-06-25","Rainfall":0,"Cum Rainfall":144},{"date":"2006-06-26","Rainfall":0,"Cum Rainfall":144},{"date":"2006-06-27","Rainfall":0,"Cum Rainfall":144},{"date":"2006-06-28","Rainfall":0,"Cum Rainfall":144},{"date":"2006-06-29","Rainfall":5,"Cum Rainfall":149},{"date":"2006-06-30","Rainfall":15,"Cum Rainfall":164},
        {"date":"2006-07-01","Rainfall":11,"Cum Rainfall":175},{"date":"2006-07-02","Rainfall":1,"Cum Rainfall":176},{"date":"2006-07-03","Rainfall":0,"Cum Rainfall":176},{"date":"2006-07-04","Rainfall":10,"Cum Rainfall":186},{"date":"2006-07-05","Rainfall":4,"Cum Rainfall":190},{"date":"2006-07-06","Rainfall":0,"Cum Rainfall":0},{"date":"2006-07-07","Rainfall":0,"Cum Rainfall":0},{"date":"2006-07-08","Rainfall":0,"Cum Rainfall":0},{"date":"2006-07-09","Rainfall":0,"Cum Rainfall":0},{"date":"2006-07-10","Rainfall":0,"Cum Rainfall":0},{"date":"2006-07-11","Rainfall":0,"Cum Rainfall":0},{"date":"2006-07-12","Rainfall":0,"Cum Rainfall":0},{"date":"2006-07-13","Rainfall":3,"Cum Rainfall":3},{"date":"2006-07-14","Rainfall":6,"Cum Rainfall":9},{"date":"2006-07-15","Rainfall":17,"Cum Rainfall":26},{"date":"2006-07-16","Rainfall":0,"Cum Rainfall":26},{"date":"2006-07-17","Rainfall":0,"Cum Rainfall":26},{"date":"2006-07-18","Rainfall":0,"Cum Rainfall":26},{"date":"2006-07-19","Rainfall":0,"Cum Rainfall":26},{"date":"2006-07-20","Rainfall":0,"Cum Rainfall":26},{"date":"2006-07-21","Rainfall":0,"Cum Rainfall":26},{"date":"2006-07-22","Rainfall":6,"Cum Rainfall":32},{"date":"2006-07-23","Rainfall":10,"Cum Rainfall":42},{"date":"2006-07-24","Rainfall":18,"Cum Rainfall":60},{"date":"2006-07-25","Rainfall":4,"Cum Rainfall":64},{"date":"2006-07-26","Rainfall":1,"Cum Rainfall":65},{"date":"2006-07-27","Rainfall":10,"Cum Rainfall":75},{"date":"2006-07-28","Rainfall":9,"Cum Rainfall":84},{"date":"2006-07-29","Rainfall":1,"Cum Rainfall":85},{"date":"2006-07-30","Rainfall":0,"Cum Rainfall":85},{"date":"2006-07-31","Rainfall":0,"Cum Rainfall":85},
        {"date":"2006-08-01","Rainfall":6,"Cum Rainfall":91},{"date":"2006-08-02","Rainfall":2,"Cum Rainfall":93},{"date":"2006-08-03","Rainfall":3,"Cum Rainfall":96},{"date":"2006-08-04","Rainfall":5,"Cum Rainfall":101},{"date":"2006-08-05","Rainfall":6,"Cum Rainfall":107},{"date":"2006-08-06","Rainfall":1,"Cum Rainfall":108},{"date":"2006-08-07","Rainfall":0,"Cum Rainfall":108},{"date":"2006-08-08","Rainfall":0,"Cum Rainfall":108},{"date":"2006-08-09","Rainfall":0,"Cum Rainfall":108},{"date":"2006-08-10","Rainfall":0,"Cum Rainfall":108},{"date":"2006-08-11","Rainfall":20,"Cum Rainfall":128},{"date":"2006-08-12","Rainfall":10,"Cum Rainfall":138},{"date":"2006-08-13","Rainfall":0,"Cum Rainfall":138},{"date":"2006-08-14","Rainfall":0,"Cum Rainfall":138},{"date":"2006-08-15","Rainfall":18,"Cum Rainfall":156},{"date":"2006-08-16","Rainfall":0,"Cum Rainfall":156},{"date":"2006-08-17","Rainfall":4,"Cum Rainfall":160},{"date":"2006-08-18","Rainfall":4,"Cum Rainfall":164},{"date":"2006-08-19","Rainfall":4,"Cum Rainfall":168},{"date":"2006-08-20","Rainfall":1,"Cum Rainfall":169},{"date":"2006-08-21","Rainfall":0,"Cum Rainfall":0},{"date":"2006-08-22","Rainfall":2,"Cum Rainfall":2},{"date":"2006-08-23","Rainfall":20,"Cum Rainfall":22},{"date":"2006-08-24","Rainfall":12,"Cum Rainfall":34},{"date":"2006-08-25","Rainfall":6,"Cum Rainfall":40},{"date":"2006-08-26","Rainfall":2,"Cum Rainfall":42},{"date":"2006-08-27","Rainfall":0,"Cum Rainfall":42},{"date":"2006-08-28","Rainfall":0,"Cum Rainfall":42},{"date":"2006-08-29","Rainfall":0,"Cum Rainfall":42},{"date":"2006-08-30","Rainfall":0,"Cum Rainfall":42},{"date":"2006-08-31","Rainfall":1,"Cum Rainfall":43},
        {"date":"2006-09-01","Rainfall":1,"Cum Rainfall":44},{"date":"2006-09-02","Rainfall":0,"Cum Rainfall":44},{"date":"2006-09-03","Rainfall":0,"Cum Rainfall":44},{"date":"2006-09-04","Rainfall":0,"Cum Rainfall":44},{"date":"2006-09-05","Rainfall":0,"Cum Rainfall":44},{"date":"2006-09-06","Rainfall":0,"Cum Rainfall":44},{"date":"2006-09-07","Rainfall":21,"Cum Rainfall":65},{"date":"2006-09-08","Rainfall":0,"Cum Rainfall":65},{"date":"2006-09-09","Rainfall":0,"Cum Rainfall":65},{"date":"2006-09-10","Rainfall":0,"Cum Rainfall":65},{"date":"2006-09-11","Rainfall":0,"Cum Rainfall":65},{"date":"2006-09-12","Rainfall":3,"Cum Rainfall":68},{"date":"2006-09-13","Rainfall":1,"Cum Rainfall":69},{"date":"2006-09-14","Rainfall":6,"Cum Rainfall":75},{"date":"2006-09-15","Rainfall":1,"Cum Rainfall":76},{"date":"2006-09-16","Rainfall":0,"Cum Rainfall":76},{"date":"2006-09-17","Rainfall":21,"Cum Rainfall":97},{"date":"2006-09-18","Rainfall":4,"Cum Rainfall":101},{"date":"2006-09-19","Rainfall":1,"Cum Rainfall":102},{"date":"2006-09-20","Rainfall":1,"Cum Rainfall":103},{"date":"2006-09-21","Rainfall":0,"Cum Rainfall":103},{"date":"2006-09-22","Rainfall":20,"Cum Rainfall":123},{"date":"2006-09-23","Rainfall":0,"Cum Rainfall":123},{"date":"2006-09-24","Rainfall":0,"Cum Rainfall":123},{"date":"2006-09-25","Rainfall":0,"Cum Rainfall":123},{"date":"2006-09-26","Rainfall":0,"Cum Rainfall":123},{"date":"2006-09-27","Rainfall":0,"Cum Rainfall":123},{"date":"2006-09-28","Rainfall":0,"Cum Rainfall":123},{"date":"2006-09-29","Rainfall":18,"Cum Rainfall":141},{"date":"2006-09-30","Rainfall":1,"Cum Rainfall":142},
        {"date":"2006-10-01","Rainfall":1,"Cum Rainfall":143},{"date":"2006-10-02","Rainfall":0,"Cum Rainfall":143},{"date":"2006-10-03","Rainfall":0,"Cum Rainfall":143},{"date":"2006-10-04","Rainfall":0,"Cum Rainfall":143},{"date":"2006-10-05","Rainfall":0,"Cum Rainfall":143},{"date":"2006-10-06","Rainfall":0,"Cum Rainfall":143},{"date":"2006-10-07","Rainfall":0,"Cum Rainfall":143},{"date":"2006-10-08","Rainfall":0,"Cum Rainfall":143},{"date":"2006-10-09","Rainfall":0,"Cum Rainfall":143},{"date":"2006-10-10","Rainfall":0,"Cum Rainfall":143},{"date":"2006-10-11","Rainfall":0,"Cum Rainfall":143},{"date":"2006-10-12","Rainfall":10,"Cum Rainfall":153},{"date":"2006-10-13","Rainfall":6,"Cum Rainfall":159},{"date":"2006-10-14","Rainfall":11,"Cum Rainfall":170},{"date":"2006-10-15","Rainfall":2,"Cum Rainfall":172},{"date":"2006-10-16","Rainfall":0,"Cum Rainfall":172},{"date":"2006-10-17","Rainfall":0,"Cum Rainfall":172},{"date":"2006-10-18","Rainfall":0,"Cum Rainfall":172},{"date":"2006-10-19","Rainfall":0,"Cum Rainfall":172},{"date":"2006-10-20","Rainfall":8,"Cum Rainfall":180},{"date":"2006-10-21","Rainfall":36,"Cum Rainfall":216}
      ]},
      "encoding": {
        "x": {"field": "date", "type": "temporal",
          "scale": {"domain": [{"year": 2006, "month": 5, "date": 15}, {"year": 2006, "month": 10, "date": 21}], "range": [44, 723.7]},
          "axis": {"format": "%-m/%-d", "values": [{"year": 2006, "month": 5, "date": 15}, {"year": 2006, "month": 5, "date": 30}, {"year": 2006, "month": 6, "date": 14}, {"year": 2006, "month": 6, "date": 29}, {"year": 2006, "month": 7, "date": 14}, {"year": 2006, "month": 7, "date": 29}, {"year": 2006, "month": 8, "date": 13}, {"year": 2006, "month": 8, "date": 28}, {"year": 2006, "month": 9, "date": 12}, {"year": 2006, "month": 9, "date": 27}, {"year": 2006, "month": 10, "date": 12}],
            "title": ["Note:  Threshold information, both time period and levels, were obtained from PACC data.", "Rainfall information was obtained from daily rainfall information from the National Water", "Commission (CNA)."]}},
        "y": {"field": "mm", "type": "quantitative", "scale": {"domain": [0, 250], "range": [344.5, 65], "nice": false}, "axis": {"values": [0, 50, 100, 150, 200, 250]}},
        "color": {"field": "series", "type": "nominal", "scale": {"domain": ["Threshold", "Rainfall", "Cum Rainfall"], "range": ["#4a7ebb", "#c0504d", "#000000"]}, "legend": {"title": null}},
        "strokeDash": {"field": "series", "type": "nominal", "scale": {"domain": ["Threshold", "Rainfall", "Cum Rainfall"], "range": [[1, 0], [1, 0], [6, 3]]}, "legend": {"title": null}}
      },
      "layer": [
        {"data": {"format": {"parse": {"date": "date:'%Y-%m-%d'"}}, "values": [{"series":"Threshold","date":"2006-05-15","mm":44},{"series":"Threshold","date":"2006-07-05","mm":44},{"series":"Threshold","date":"2006-07-06","mm":81},{"series":"Threshold","date":"2006-08-20","mm":81},{"series":"Threshold","date":"2006-08-21","mm":61},{"series":"Threshold","date":"2006-10-21","mm":61}]},
         "mark": {"type": "line", "strokeWidth": 2}},
        {"transform": [{"fold": ["Rainfall"], "as": ["series", "mm"]}], "mark": {"type": "line", "strokeWidth": 1}},
        {"transform": [{"window": [{"op": "lead", "field": "date", "as": "next_date"}, {"op": "lead", "field": "Cum Rainfall", "as": "next_mm"}], "sort": [{"field": "date", "order": "ascending"}]}, {"filter": "datum.next_date != null"}, {"fold": ["Cum Rainfall"], "as": ["series", "mm"]}],
         "mark": {"type": "rule", "strokeWidth": 1.75, "strokeCap": "butt"},
         "encoding": {"x2": {"field": "next_date"}, "y2": {"field": "next_mm"}}}
      ]
    }
  ]
}
